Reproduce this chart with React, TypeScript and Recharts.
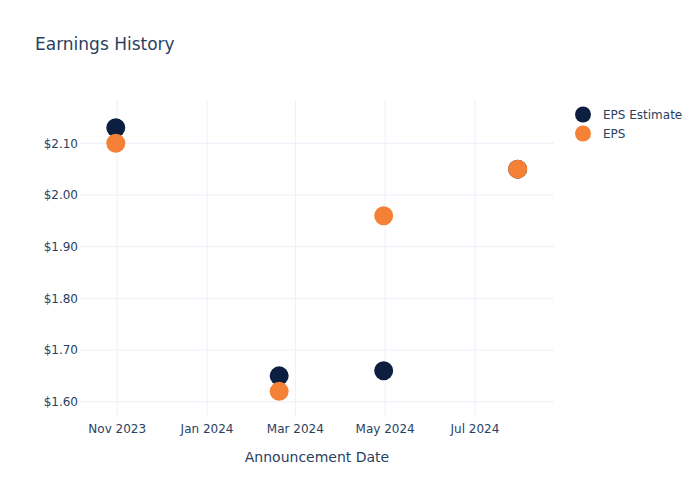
import React from "react";
import { ScatterChart, Scatter, XAxis, YAxis, ReferenceLine, Label } from "recharts";

const dates = ["2023-10-31", "2024-02-19", "2024-04-30", "2024-07-30"];
const epsEstimate = [2.13, 1.65, 1.66, 2.05];
const eps = [2.1, 1.62, 1.96, 2.05];
const xTickDates = ["2023-11-01", "2024-01-01", "2024-03-01", "2024-05-01", "2024-07-01"];
const xTickLabels = ["Nov 2023", "Jan 2024", "Mar 2024", "May 2024", "Jul 2024"];
const yTicks = [1.6, 1.7, 1.8, 1.9, 2.0, 2.1];
const seriesNames = ["EPS Estimate", "EPS"];
const seriesColors = ["#0c1f41", "#f58136"];

const ts = (s: string) => new Date(s + "T00:00:00Z").getTime();
const DAY = 86400000;

const estData = dates.map((d, i) => ({ x: ts(d), y: epsEstimate[i] }));
const epsData = dates.map((d, i) => ({ x: ts(d), y: eps[i] }));
const xTicks = xTickDates.map(ts);
const xDomain = [ts("2023-10-06") + 0.7 * DAY, ts("2024-08-23") + 0.7 * DAY];
const yDomain = [1.5704, 2.1838];

const FONT = "'DejaVu Sans', sans-serif";
const TEXT = "#2a3f5f";
const GRID = "#ebf0f8";

const dot = (color: string) => (props: any) => (
  <circle cx={props.cx} cy={props.cy} r={9.5} fill={color} />
);

export default function App() {
  return (
    <div style={{ position: "absolute", left: 0, top: 0, width: 700, height: 500, background: "#fff", fontFamily: FONT }}>
      <div style={{ position: "absolute", left: 35, top: 34, fontSize: 17, color: TEXT, fontFamily: FONT, lineHeight: "20px" }}>
        Earnings History
      </div>
      <ScatterChart width={700} height={500} margin={{ top: 100, right: 146, left: 0, bottom: 0 }}>
        {yTicks.map((t) => (
          <ReferenceLine key={"y" + t} y={t} stroke={GRID} strokeWidth={1} ifOverflow="hidden" />
        ))}
        {xTicks.map((t) => (
          <ReferenceLine key={"x" + t} x={t} stroke={GRID} strokeWidth={1} ifOverflow="hidden" />
        ))}
        <XAxis
          dataKey="x"
          type="number"
          domain={xDomain}
          ticks={xTicks}
          allowDataOverflow
          height={83}
          axisLine={false}
          tickLine={false}
          tickSize={0}
          tickMargin={7}
          tick={{ fill: TEXT, fontSize: 12, fontFamily: FONT }}
          tickFormatter={(v: number) => xTickLabels[xTicks.indexOf(v)] ?? ""}
        >
          <Label value="Announcement Date" position="insideBottom" offset={38} fill={TEXT} fontSize={14} fontFamily={FONT} />
        </XAxis>
        <YAxis
          dataKey="y"
          type="number"
          domain={yDomain}
          ticks={yTicks}
          allowDataOverflow
          width={80}
          axisLine={false}
          tickLine={false}
          tickSize={0}
          tickMargin={2}
          tick={{ fill: TEXT, fontSize: 12, fontFamily: FONT }}
          tickFormatter={(v: number) => "$" + v.toFixed(2)}
        />
        <Scatter name={seriesNames[0]} data={estData} fill={seriesColors[0]} shape={dot(seriesColors[0])} isAnimationActive={false} />
        <Scatter name={seriesNames[1]} data={epsData} fill={seriesColors[1]} shape={dot(seriesColors[1])} isAnimationActive={false} />
      </ScatterChart>
      <div style={{ position: "absolute", left: 574, top: 105 }}>
        {seriesNames.map((n, i) => (
          <div key={n} style={{ display: "flex", alignItems: "center", height: 19 }}>
            <svg width={20} height={19}>
              <circle cx={9} cy={9.5} r={8} fill={seriesColors[i]} />
            </svg>
            <span style={{ marginLeft: 9, fontSize: 12, color: TEXT, fontFamily: FONT }}>{n}</span>
          </div>
        ))}
      </div>
    </div>
  );
}
